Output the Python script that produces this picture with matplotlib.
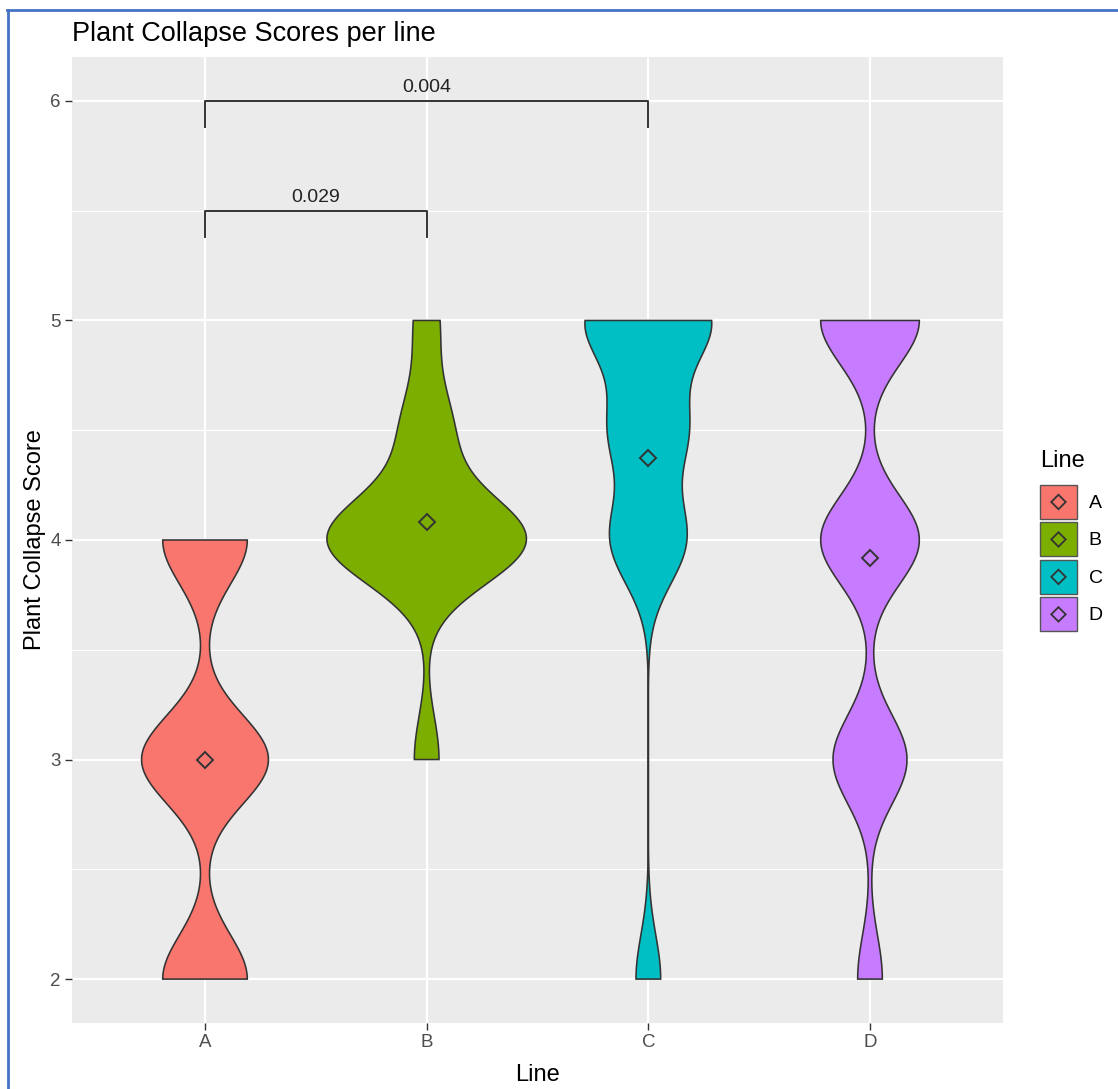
"""
Violin plot of plant collapse scores per line, ggplot look.
"""
import matplotlib
matplotlib.use("Agg")
import matplotlib.pyplot as plt
from matplotlib.patches import Patch, Rectangle, Polygon
from matplotlib.lines import Line2D
from matplotlib.legend_handler import HandlerTuple, HandlerPatch
import numpy as np

plt.rcParams['font.family'] = ['Liberation Sans', 'DejaVu Sans']

lines = ["A", "B", "C", "D"]
colors = ["#F8766D", "#7CAE00", "#00BFC4", "#C77CFF"]
# scores seen in each line and how many plants got each one
scores = [
    [2, 3, 4],
    [3, 4, 4.5, 5],
    [2, 4, 4.5, 5],
    [2, 3, 4, 5],
]
counts = [
    [2, 3, 2],
    [1, 8, 2, 1],
    [1, 3, 3, 5],
    [1, 3, 4, 4],
]
bandwidth = [0.2, 0.2, 0.2, 0.2]
# significance brackets
pairs = [("A", "B"), ("A", "C")]
p_values = ["0.029", "0.004"]
bracket_y = [5.5, 6.0]
tip = 0.12

W, H = 1118, 1089
DARK = "#333333"


def density(vals, cnts, h, y):
    """gaussian kernel density, weighted by counts"""
    vals = np.asarray(vals, float)
    w = np.asarray(cnts, float) / np.sum(cnts)
    z = (y[:, None] - vals[None, :]) / h
    return (w * np.exp(-0.5 * z ** 2)).sum(axis=1) / (h * np.sqrt(2 * np.pi))


def key_box(legend, orig_handle, xdescent, ydescent, width, height, fontsize):
    return Rectangle((-xdescent, -ydescent), width, height)


def key_diamond(legend, orig_handle, xdescent, ydescent, width, height, fontsize):
    cx = width / 2 - xdescent
    cy = height / 2 - ydescent
    r = 5.2
    return Polygon([[cx, cy + r], [cx + r, cy], [cx, cy - r], [cx - r, cy]], closed=True)


fig = plt.figure(figsize=(W / 100, H / 100), dpi=100)
ax = fig.add_axes([72 / W, 1 - 1023 / H, (1003 - 72) / W, (1023 - 57) / H])
ax.set_facecolor("#EBEBEB")
for s in ax.spines.values():
    s.set_visible(False)

# densities trimmed to the data range, scaled by area (same max for all)
grids, dens = [], []
for i in range(len(lines)):
    y = np.linspace(min(scores[i]), max(scores[i]), 512)
    grids.append(y)
    dens.append(density(scores[i], counts[i], bandwidth[i], y))
dmax = max(d.max() for d in dens)

for i, name in enumerate(lines):
    x0 = i + 1
    half = dens[i] / dmax * 0.45
    y = grids[i]
    xs = np.concatenate([x0 - half, (x0 + half)[::-1]])
    ys = np.concatenate([y, y[::-1]])
    ax.fill(xs, ys, facecolor=colors[i], edgecolor=DARK, lw=1.15, zorder=3)
    mean = np.average(scores[i], weights=counts[i])
    ax.plot(x0, mean, marker="D", ms=8.5, mfc="none", mec=DARK, mew=1.4, zorder=4)

# brackets
for (a, b), p, yb in zip(pairs, p_values, bracket_y):
    xa = lines.index(a) + 1
    xb = lines.index(b) + 1
    ax.plot([xa, xa, xb, xb], [yb - tip, yb, yb, yb - tip], color=DARK, lw=1.4, zorder=4)
    ax.text((xa + xb) / 2, yb + 0.04, p, ha="center", va="baseline", fontsize=14, color="#222222")

ax.set_xlim(0.4, 4.6)
ax.set_ylim(1.8, 6.2)
ax.set_xticks(range(1, len(lines) + 1))
ax.set_xticklabels(lines)
ax.set_yticks([2, 3, 4, 5, 6])
ax.set_yticks([2.5, 3.5, 4.5, 5.5], minor=True)
ax.set_axisbelow(True)
ax.grid(which="major", color="white", lw=1.6)
ax.grid(which="minor", axis="y", color="white", lw=0.8)
ax.tick_params(which="major", length=5, width=1, color=DARK, labelcolor="#4D4D4D",
               labelsize=13.5, pad=3)
ax.tick_params(which="minor", length=0)

ax.set_xlabel("Line", fontsize=17, labelpad=9)
ax.set_ylabel("Plant Collapse Score", fontsize=17, labelpad=3)
fig.text(72 / W, 1 - 41 / H, "Plant Collapse Scores per line", fontsize=19.5, va="baseline")

# legend, title drawn on its own to keep the ggplot gap under it
fig.text(1040 / W, 1 - 461 / H, "Line", fontsize=17, va="center")
handles = []
hmap = {}
for c in colors:
    box = Patch(facecolor=c, edgecolor="#555555", lw=1.0)
    dia = Patch(facecolor="none", edgecolor=DARK, lw=1.3)
    hmap[box] = HandlerPatch(patch_func=key_box)
    hmap[dia] = HandlerPatch(patch_func=key_diamond)
    handles.append((box, dia))
hmap[tuple] = HandlerTuple(ndivide=1)
fig.legend(handles, lines, loc="upper left",
           bbox_to_anchor=(1040 / W, 1 - 485 / H), frameon=False, fontsize=14,
           handlelength=1.9, handleheight=2.31, labelspacing=0.18,
           handletextpad=0.6, borderpad=0, borderaxespad=0, handler_map=hmap)

# blue frame from the screenshot
fig.add_artist(Line2D([7 / W, 1], [1 - 10 / H, 1 - 10 / H], color="#4472C4", lw=2))
fig.add_artist(Line2D([8 / W, 8 / W], [0, 1 - 10 / H], color="#4472C4", lw=2))

fig.savefig("out.png", dpi=100)
